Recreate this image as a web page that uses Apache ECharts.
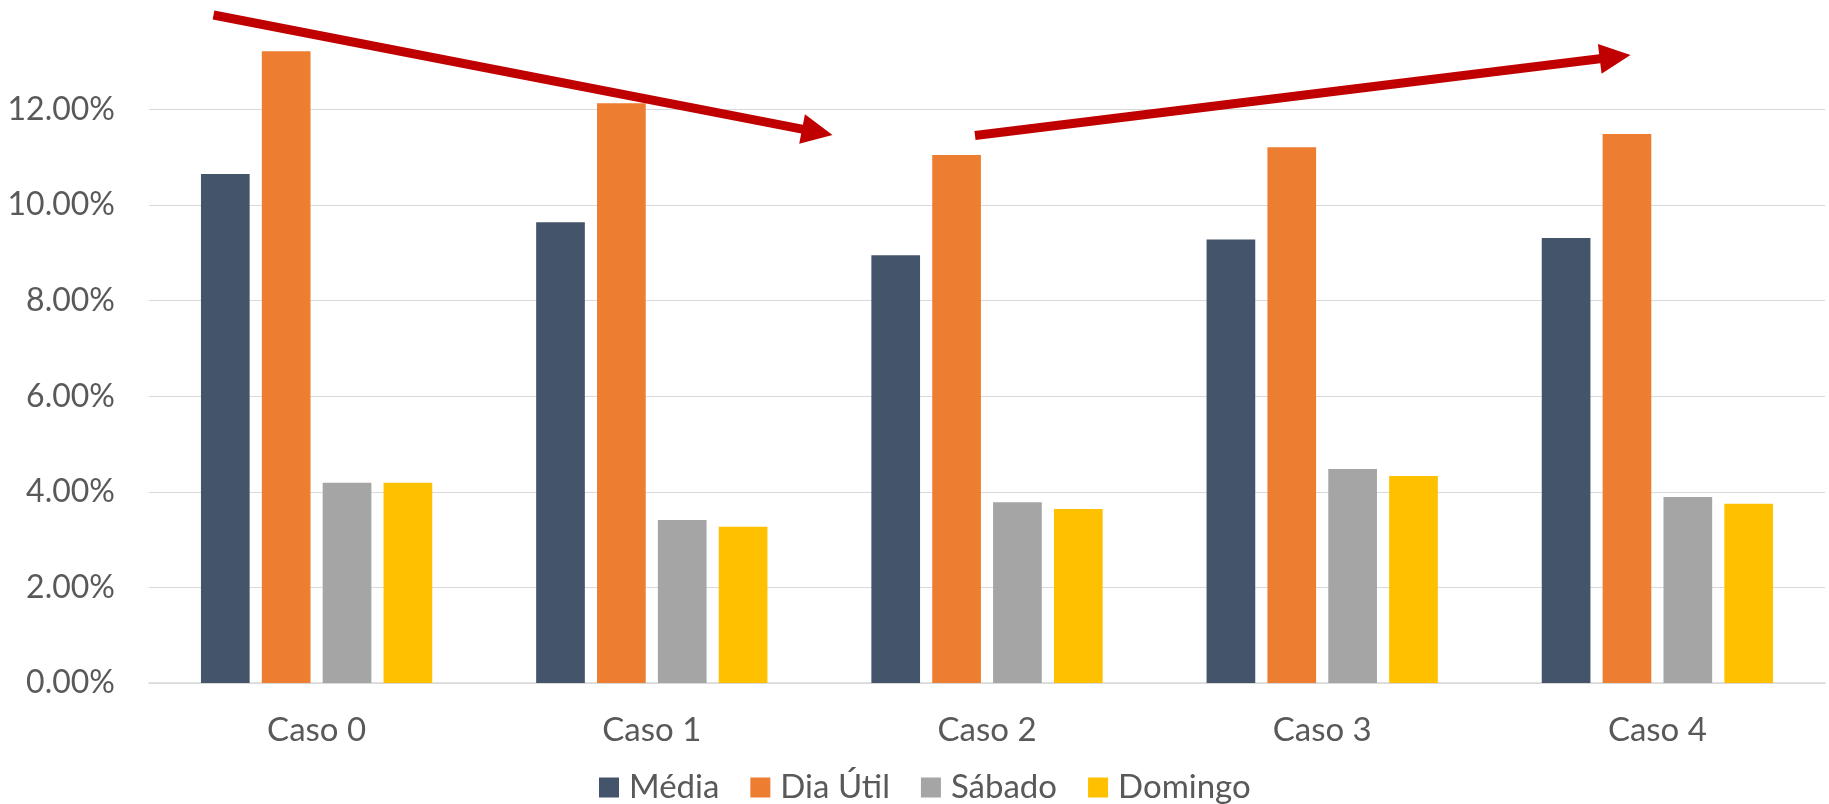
<!DOCTYPE html>
<html>
<head>
<meta charset="utf-8">
<script src="https://cdn.jsdelivr.net/npm/echarts@6/dist/echarts.min.js"></script>
<style>
  html, body { margin: 0; padding: 0; background: #ffffff; }
  #chart { width: 1829px; height: 804px; }
</style>
</head>
<body>
<div id="chart"></div>
<script>
// Categories and series values (percent)
const categories = ['Caso 0', 'Caso 1', 'Caso 2', 'Caso 3', 'Caso 4'];
const media    = [10.65, 9.64, 8.95, 9.28, 9.31];
const diaUtil  = [13.22, 12.13, 11.05, 11.21, 11.49];
const sabado   = [4.19, 3.41, 3.78, 4.48, 3.89];
const domingo  = [4.19, 3.27, 3.64, 4.33, 3.75];
const seriesNames = ['Média', 'Dia Útil', 'Sábado', 'Domingo'];
const seriesColors = ['#44546A', '#ED7D31', '#A5A5A5', '#FFC000'];

const FONT = 'Lato, "Open Sans", "Noto Sans", sans-serif';
const TEXT_COLOR = '#595959';

// Build a filled arrow polygon from a start point to the tip
function arrowPoints(x1, y1, x2, y2, shaft, headLen, headWidth) {
  const dx = x2 - x1, dy = y2 - y1;
  const len = Math.sqrt(dx * dx + dy * dy);
  const ux = dx / len, uy = dy / len;
  const nx = -uy, ny = ux;
  const bx = x2 - ux * headLen, by = y2 - uy * headLen;
  const s = shaft / 2, h = headWidth / 2;
  return [
    [x1 + nx * s, y1 + ny * s],
    [bx + nx * s, by + ny * s],
    [bx + nx * h, by + ny * h],
    [x2, y2],
    [bx - nx * h, by - ny * h],
    [bx - nx * s, by - ny * s],
    [x1 - nx * s, y1 - ny * s]
  ];
}

const chart = echarts.init(document.getElementById('chart'), null, { renderer: 'canvas' });

const dataSets = [media, diaUtil, sabado, domingo];

const option = {
  backgroundColor: '#ffffff',
  animation: false,
  grid: { left: 149, right: 4, top: 14, bottom: 121, containLabel: false },
  legend: {
    data: seriesNames,
    left: 594,
    top: 766,
    icon: 'rect',
    itemWidth: 20,
    itemHeight: 20,
    itemGap: 31,
    textStyle: { fontFamily: FONT, fontSize: 33, color: TEXT_COLOR, padding: [0, 0, 0, 5] }
  },
  xAxis: {
    type: 'category',
    data: categories,
    axisTick: { show: false },
    axisLine: { lineStyle: { color: '#D9D9D9', width: 1.5 } },
    axisLabel: { fontFamily: FONT, fontSize: 33, color: TEXT_COLOR, margin: 31 }
  },
  yAxis: {
    type: 'value',
    min: 0,
    max: 14,
    interval: 2,
    axisLine: { show: false },
    axisTick: { show: false },
    axisLabel: {
      fontFamily: FONT, fontSize: 32, color: TEXT_COLOR, margin: 34,
      showMaxLabel: false,
      formatter: v => v.toFixed(2) + '%'
    },
    splitLine: { showMaxLine: false, lineStyle: { color: '#D9D9D9', width: 1.2 } }
  },
  series: seriesNames.map((name, i) => ({
    name: name,
    type: 'bar',
    data: dataSets[i],
    barGap: '25%',
    barCategoryGap: '31%',
    itemStyle: { color: seriesColors[i] }
  })),
  graphic: [
    {
      type: 'polygon',
      z: 100,
      shape: { points: arrowPoints(213.5, 15, 832.5, 135, 9, 31, 30) },
      style: { fill: '#C00000' }
    },
    {
      type: 'polygon',
      z: 100,
      shape: { points: arrowPoints(975, 135.5, 1630.5, 55, 9, 31, 30) },
      style: { fill: '#C00000' }
    }
  ]
};

chart.setOption(option);
</script>
</body>
</html>
